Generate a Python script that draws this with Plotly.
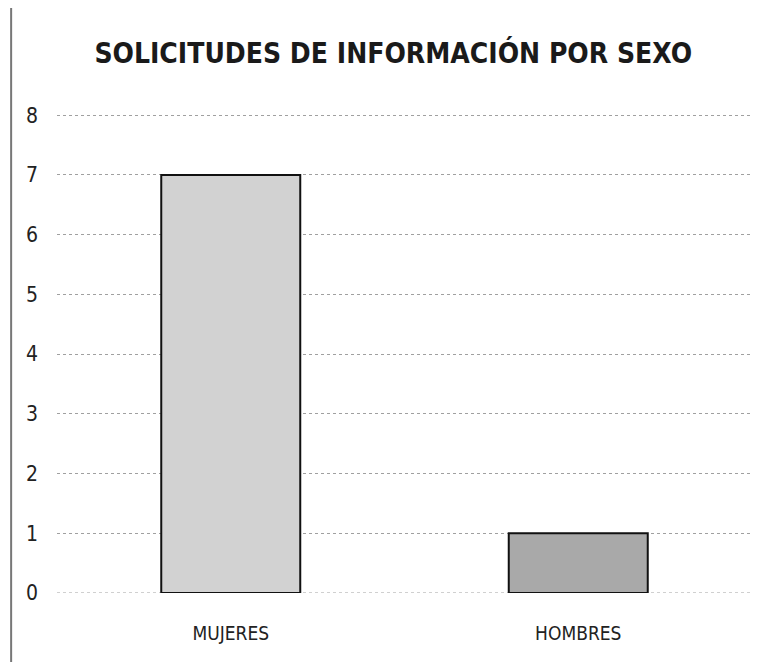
import plotly.graph_objects as go

categories = ["MUJERES", "HOMBRES"]
values = [7, 1]
bar_colors = ["#d2d2d2", "#a9a9a9"]
y_ticks = [0, 1, 2, 3, 4, 5, 6, 7, 8]

FONT = "DejaVu Sans Condensed, DejaVu Sans, sans-serif"

fig = go.Figure()
fig.add_trace(go.Bar(
    x=categories, y=values,
    marker=dict(color=bar_colors, line=dict(color="#111111", width=2)),
    width=0.4,
))

fig.update_layout(
    width=751, height=654,
    paper_bgcolor="white", plot_bgcolor="white",
    margin=dict(l=49, r=7, t=106, b=69),
    showlegend=False,
    title=dict(
        text="<b>SOLICITUDES DE INFORMACIÓN POR SEXO</b>",
        xref="container", x=0.513, xanchor="center",
        yref="container", y=0.931, yanchor="middle",
        font=dict(family=FONT, size=28, color="#1a1a1a"),
    ),
    font=dict(family=FONT, color="#222222"),
)
fig.update_yaxes(
    range=[0, 8.02], tickvals=y_ticks, showgrid=True,
    gridcolor="#a0a0a0", griddash="dot", gridwidth=1,
    zeroline=False, showline=False, ticks="",
    tickfont=dict(size=21, family=FONT),
    ticklabelstandoff=18,
)
fig.update_xaxes(
    showgrid=False, showline=False, ticks="",
    tickfont=dict(size=19, family=FONT),
    ticklabelstandoff=27,
)
# zero baseline dotted
fig.add_shape(type="line", xref="paper", yref="y", x0=0, x1=1, y0=0, y1=0,
              line=dict(color="#a0a0a0", width=1, dash="dot"), layer="below")
# left frame border
fig.add_shape(type="line", xref="paper", yref="paper", x0=-0.066, x1=-0.066, y0=-0.2, y1=1.3,
              line=dict(color="#777777", width=2))

fig.write_html("out.html")
